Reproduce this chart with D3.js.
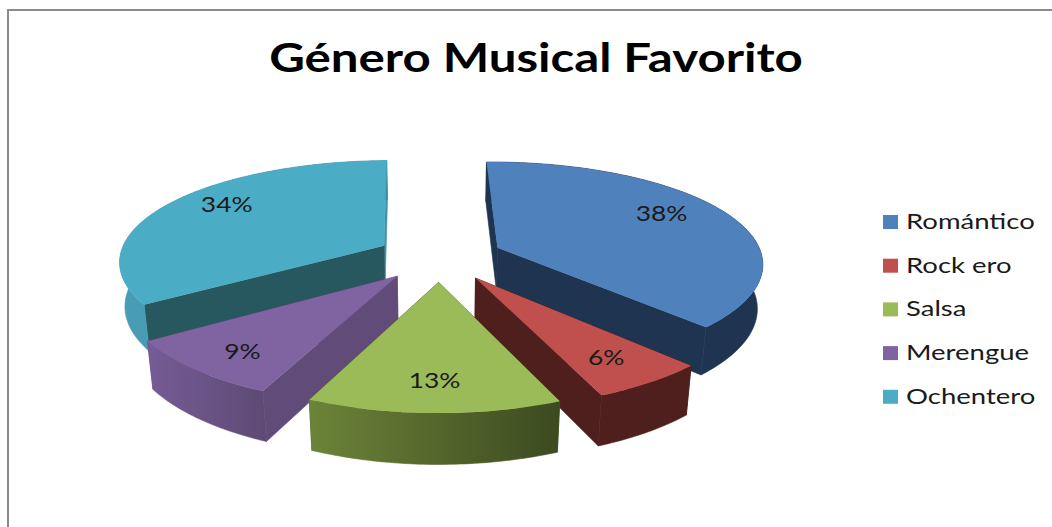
<!DOCTYPE html>
<html lang="es">
<head>
<meta charset="utf-8">
<title>Género Musical Favorito</title>
<script src="https://cdn.jsdelivr.net/npm/d3@7"></script>
<style>
  html, body { margin: 0; padding: 0; background: #fff; }
  svg { display: block; }
  text { font-family: Lato, "Open Sans", sans-serif; fill: #1a1a1a; }
</style>
</head>
<body>
<div id="chart"></div>
<script>
// Chart data
const titleText = "Género Musical Favorito";
const categories = ["Romántico", "Rock ero", "Salsa", "Merengue", "Ochentero"];
const shares = [38, 6, 13, 9, 34];

// Palette: top surface, radial cut face, and outer wall (left and right gradient stops)
const topColors = ["#4f81bd", "#c0504d", "#9bbb59", "#8064a2", "#4bacc6"];
const cutColors = ["#1f3450", "#4e1f1d", "#4a5c2a", "#614b78", "#27575f"];
const wallLeft = ["#1f3450", "#4e1f1d", "#6c8439", "#755c95", "#4a9db6"];
const wallRight = ["#1f3450", "#4e1f1d", "#3c4a20", "#5f4a75", "#3d8ca4"];
const endColors = ["#1f3450", "#4e1f1d", "#4a5c2a", "#614b78", "#3f90a8"];

// Layout
const width = 1052, height = 527;
const cx = 439.5, cy = 257;      // screen position of the pie axis
const radiusX = 265, radiusY = 101.7; // plan scale across and into the page
const perspectiveX = 0.138, perspectiveY = 0.155; // foreshortening per unit of depth
const explode = 0.24;            // how far each wedge is pulled out
const thickness = 45;            // wedge height in pixels
const baseShrink = 0.017;        // extra foreshortening of the lower face
const rotation = -1 * Math.PI / 180;
const labelRadius = 0.7;
const labelNudge = [[3, -9], [13, 9], [-1, 11], [-18, 12], [-5, -11]];
const legendX = 883, legendTop = 222, legendStep = 43.7;
const titleStretch = 1.2, labelStretch = 1.2, legendStretch = 1.25;

const svg = d3.select("#chart").append("svg")
  .attr("width", width).attr("height", height)
  .attr("viewBox", [0, 0, width, height]);
const defs = svg.append("defs");

// Frame of the chart area: only the top and left edges fall inside the window
svg.append("path")
  .attr("d", d3.line()([[width + 2, 10], [8, 10], [8, height + 2]]))
  .attr("fill", "none").attr("stroke", "#8a8a8a").attr("stroke-width", 2);

svg.append("text")
  .attr("transform", `translate(536,72) scale(${titleStretch},1)`)
  .attr("text-anchor", "middle")
  .attr("font-size", 41).attr("font-weight", 700)
  .style("fill", "#000")
  .text(titleText);

// Wedge angles, clockwise from the far side of the pie
const pie = d3.pie().sort(null).startAngle(rotation).endAngle(rotation + 2 * Math.PI);
const arcs = pie(shares);

// Projects a point on the pie plan (polar radius and angle, with a wedge offset) to the screen
function project(r, angle, mid, lower) {
  const x = r * Math.sin(angle) + explode * Math.sin(mid);
  const far = r * Math.cos(angle) + explode * Math.cos(mid);
  const shrink = lower ? baseShrink : 0;
  return [
    cx + radiusX * x / (1 + perspectiveX * far + shrink),
    cy + (-radiusY * far + (lower ? thickness : 0)) / (1 + perspectiveY * far + shrink)
  ];
}

const outline = d3.line();
const arcAngles = a => {
  const n = Math.max(8, Math.ceil((a.endAngle - a.startAngle) * 60));
  return d3.range(n + 1).map(i => a.startAngle + (a.endAngle - a.startAngle) * i / n);
};

// Far wedges first so that the nearer ones overlap them
const paintOrder = [4, 0, 3, 1, 2];

svg.append("g").selectAll("g")
  .data(paintOrder)
  .join("g")
  .each(function (i) {
    const a = arcs[i];
    const mid = (a.startAngle + a.endAngle) / 2;
    const g = d3.select(this);
    const angles = arcAngles(a);
    const rim = angles.map(t => project(1, t, mid, false));
    const rimLow = angles.map(t => project(1, t, mid, true));

    const cutFace = (angle, fill) => g.append("path")
      .attr("d", outline([
        project(0, angle, mid, false),
        project(1, angle, mid, false),
        project(1, angle, mid, true),
        project(0, angle, mid, true)
      ]) + "Z")
      .attr("fill", fill)
      .attr("stroke", fill).attr("stroke-width", 0.6);

    cutFace(a.endAngle, endColors[i]);
    cutFace(a.startAngle, cutColors[i]);

    // Outer wall, shaded across its width
    const xs = d3.extent(rim, d => d[0]);
    const gradId = "wall-" + i;
    const grad = defs.append("linearGradient")
      .attr("id", gradId)
      .attr("gradientUnits", "userSpaceOnUse")
      .attr("x1", xs[0]).attr("x2", xs[1]).attr("y1", 0).attr("y2", 0);
    grad.append("stop").attr("offset", 0).attr("stop-color", wallLeft[i]);
    grad.append("stop").attr("offset", 1).attr("stop-color", wallRight[i]);
    g.append("path")
      .attr("d", outline(rim.concat(rimLow.slice().reverse())) + "Z")
      .attr("fill", `url(#${gradId})`)
      .attr("stroke", `url(#${gradId})`).attr("stroke-width", 0.6);

    // Top surface
    g.append("path")
      .attr("d", outline([project(0, a.startAngle, mid, false)].concat(rim)) + "Z")
      .attr("fill", topColors[i]);
  });

// Value labels on the top surfaces
svg.append("g").selectAll("text")
  .data(arcs)
  .join("text")
  .attr("transform", (a, i) => {
    const mid = (a.startAngle + a.endAngle) / 2;
    const p = project(labelRadius, mid, mid, false);
    return `translate(${p[0] + labelNudge[i][0]},${p[1] + labelNudge[i][1]}) scale(${labelStretch},1)`;
  })
  .attr("text-anchor", "middle")
  .attr("dy", "0.36em")
  .attr("font-size", 22)
  .text(a => a.value + "%");

// Legend
const legend = svg.append("g").selectAll("g")
  .data(categories)
  .join("g")
  .attr("transform", (d, i) => `translate(${legendX},${legendTop + i * legendStep})`);
legend.append("rect")
  .attr("x", 0).attr("y", -7).attr("width", 15).attr("height", 14)
  .attr("fill", (d, i) => topColors[i]);
legend.append("text")
  .attr("transform", `translate(23,7) scale(${legendStretch},1)`)
  .attr("font-size", 22)
  .text(d => d);
</script>
</body>
</html>
